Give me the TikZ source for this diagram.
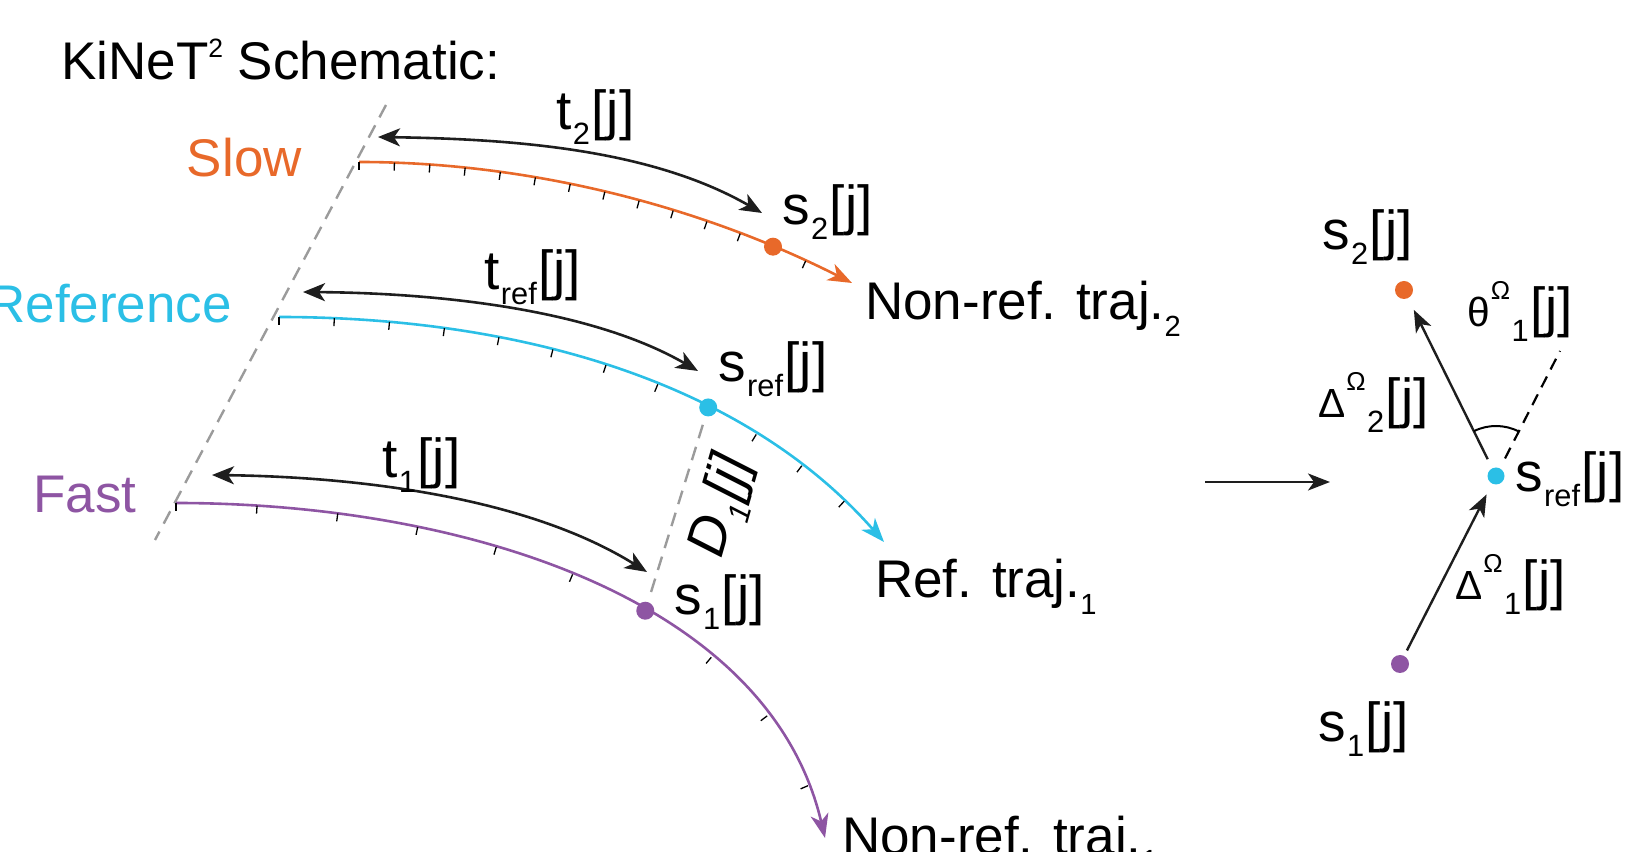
\documentclass[tikz,border=0pt]{standalone}
\usepackage{fontspec}
\setmainfont{Liberation Sans}
\usepackage{graphicx}
\usetikzlibrary{arrows.meta,decorations.markings}
\definecolor{cOrange}{HTML}{E8692A}
\definecolor{cCyan}{HTML}{2BBFE6}
\definecolor{cPurple}{HTML}{8E55A3}
\definecolor{cGray}{HTML}{9B9B9B}
\definecolor{cBlack}{HTML}{1E1E1E}
\newcommand{\lsub}[1]{\kern1.5pt\raisebox{-0.27em}{\scalebox{0.56}{#1}}\kern1.5pt}
\newcommand{\lsup}[1]{\kern1pt\raisebox{0.5em}{\scalebox{0.47}{#1}}}
\newcommand{\tsub}[1]{\raisebox{-0.32em}{\scalebox{0.55}{#1}}}
\newcommand{\gk}[1]{\scalebox{0.74}{#1}}
\begin{document}
\begin{tikzpicture}[x=1pt,y=1pt,
  lbl/.style={font=\fontsize{53}{60}\selectfont, inner sep=0pt, anchor=base west},
  mlbl/.style={font=\fontsize{55}{62}\selectfont, inner sep=0pt, anchor=base west},
  dot/.style={circle, inner sep=0pt, minimum size=18pt},
  traj/.style={line width=2.6pt, -{Stealth[length=24pt,width=18pt,inset=7pt]}},
  tarrow/.style={draw=cBlack, line width=2.6pt, {Stealth[length=22pt,width=18pt,inset=6pt]}-{Stealth[length=22pt,width=18pt,inset=6pt]}},
  rarrow/.style={draw=cBlack, line width=2.4pt, -{Stealth[length=22pt,width=17pt,inset=6pt]}},
  tickm/.style={draw=black, line width=1.3pt, -},
  gdash/.style={draw=cGray, line width=2.4pt, dash pattern=on 14pt off 9pt},
]
\useasboundingbox (0,0) rectangle (1643,851);

% title and row labels
\node[lbl] (title) at (61,771) {KiNeT\raisebox{0.42em}{\scalebox{0.5}{2}} Schematic:};
\node[lbl, anchor=base east, text=cOrange] (slow) at (302,674) {Slow};
\node[lbl, anchor=base east, text=cCyan] (refl) at (232,528) {Reference};
\node[lbl, text=cPurple] (fast) at (33,338) {Fast};

% gray dashed start line
\coordinate (gTop) at (386,746);
\coordinate (gBot) at (155,311);
\draw[gdash] (gTop) -- (gBot);

% orange trajectory
\coordinate (o0) at (359,689);
\coordinate (o3) at (852,568);
\draw[traj, cOrange, postaction={decorate}, decoration={markings,
   mark=between positions 0 and 0.92 step 0.0692 with {\draw[tickm] (0,0) -- (0,-8);},
   mark=at position 0.83 with {\coordinate (o2pt);}}]
  (o0) .. controls (529,689) and (700,645) .. (o3);
\node[dot, fill=cOrange] (s2dot) at (o2pt) {};

% cyan trajectory
\coordinate (c0) at (279,534);
\coordinate (c3) at (884,309);
\draw[traj, cCyan, postaction={decorate}, decoration={markings,
   mark=between positions 0 and 0.93 step 0.0831 with {\draw[tickm] (0,0) -- (0,-8);},
   mark=at position 0.665 with {\coordinate (c2pt);}}]
  (c0) .. controls (509,534) and (739,474) .. (c3);
\node[dot, fill=cCyan] (srefdot) at (c2pt) {};

% purple trajectory
\coordinate (p0) at (176,348);
\coordinate (p3) at (825,13);
\draw[traj, cPurple, postaction={decorate}, decoration={markings,
   mark=between positions 0 and 0.94 step 0.1033 with {\draw[tickm] (0,0) -- (0,-8);},
   mark=at position 0.62 with {\coordinate (p2pt);}}]
  (p0) .. controls (456,348) and (768,256) .. (p3);
\node[dot, fill=cPurple] (s1dot) at (p2pt) {};

% distance line
\draw[gdash, shorten <=9pt, shorten >=9pt] (srefdot) -- (s1dot);
\node[font=\fontsize{55}{62}\selectfont\itshape, inner sep=0pt, rotate=74] (dlab) at (724,344) {D\lsub{1}[j]};

% time arrows
\coordinate (t2L) at (378,714);
\coordinate (t2R) at (762,638);
\draw[tarrow] (t2L) .. controls (508,712) and (649,703) .. (t2R);
\coordinate (trL) at (303,559);
\coordinate (trR) at (698,480);
\draw[tarrow] (trL) .. controls (433,558) and (589,543) .. (trR);
\coordinate (t1L) at (212,376);
\coordinate (t1R) at (647,279);
\draw[tarrow] (t1L) .. controls (362,374) and (528,353) .. (t1R);

% left labels
\node[mlbl] (t2lab) at (556,721) {t\lsub{2}[j]};
\node[mlbl] (trlab) at (484,561) {t\lsub{ref}[j]};
\node[mlbl] (t1lab) at (382,373) {t\lsub{1}[j]};
\node[mlbl] (s2lab) at (782,626) {s\lsub{2}[j]};
\node[mlbl] (srlab) at (718,469) {s\lsub{ref}[j]};
\node[mlbl] (s1lab) at (674,236) {s\lsub{1}[j]};
\node[lbl] (nr2) at (865,531) {Non-ref. traj.\tsub{2}};
\node[lbl] (rt1) at (875,253) {Ref. traj.\tsub{1}};
\node[lbl] (nr1) at (842,-3) {Non-ref. traj.\tsub{1}};

% transition arrow
\coordinate (hA) at (1205,369);
\coordinate (hB) at (1330,369);
\draw[rarrow] (hA) -- (hB);

% right panel
\node[dot, fill=cOrange] (s2R) at (1404,561) {};
\node[dot, fill=cCyan, minimum size=17pt] (srefR) at (1496,375) {};
\node[dot, fill=cPurple] (s1R) at (1400,187) {};
\draw[rarrow, shorten <=10pt, shorten >=13pt] (srefR) -- (s2R);
\draw[rarrow, shorten <=6pt, shorten >=12pt] (s1R) -- (srefR);
\coordinate (thEnd) at (1560,500);
\draw[draw=black, line width=2.2pt, dash pattern=on 12pt off 8pt, shorten <=11pt] (srefR) -- (thEnd);
\draw[line width=2pt] ([shift={(62.9:50)}]srefR.center) arc[start angle=62.9, end angle=116.3, radius=50];

\node[mlbl] (s2Rl) at (1322,601) {s\lsub{2}[j]};
\node[mlbl] (thl) at (1467,524) {\gk{θ}\lsup{Ω}\lsub{1}[j]};
\node[mlbl] (d2l) at (1318,433) {\gk{Δ}\lsup{Ω}\lsub{2}[j]};
\node[mlbl] (srefRl) at (1515,359) {s\lsub{ref}[j]};
\node[mlbl] (d1l) at (1455,251) {\gk{Δ}\lsup{Ω}\lsub{1}[j]};
\node[mlbl] (s1Rl) at (1318,109) {s\lsub{1}[j]};
\end{tikzpicture}
\end{document}
